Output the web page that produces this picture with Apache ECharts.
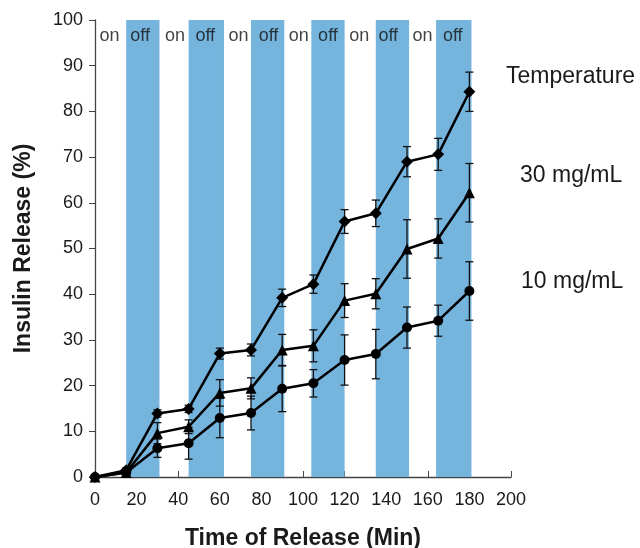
<!DOCTYPE html>
<html>
<head>
<meta charset="utf-8">
<script src="https://cdn.jsdelivr.net/npm/echarts@6/dist/echarts.min.js"></script>
<style>
  html, body { margin: 0; padding: 0; background: #fff; }
  #chart { width: 640px; height: 548px; }
</style>
</head>
<body>
<div id="chart"></div>
<script>
  // time points (min)
  var times = [0, 15, 30, 45, 60, 75, 90, 105, 120, 135, 150, 165, 180]
  // top curve (diamonds)
  var topVals = [0, 1.5, 13.9, 14.9, 27, 27.8, 39.2, 42.2, 55.9, 57.7, 69, 70.6, 84.3]
  var topErr = [0, 0.5, 0.8, 0.8, 1.2, 1.3, 1.9, 2, 2.6, 2.9, 3.3, 3.5, 4.3]
  // middle curve (triangles)
  var midVals = [0, 1, 9.6, 11, 18.4, 19.4, 27.8, 28.7, 38.6, 40.1, 49.9, 52.2, 62.2]
  var midErr = [0, 0.4, 2.3, 1.5, 2.9, 2.3, 3.4, 3.5, 3.7, 3.3, 6.4, 4.3, 6.4]
  // bottom curve (circles)
  var lowVals = [0, 1, 6.3, 7.4, 12.9, 14, 19.3, 20.5, 25.6, 26.9, 32.7, 34.2, 40.7]
  var lowErr = [0, 0.4, 2, 3.5, 4.3, 3.7, 5, 3, 5.5, 5.4, 4.5, 3.4, 6.4]
  // "off" periods
  var offStart = [15, 45, 75, 104, 135, 164]
  var offEnd = [31, 62, 91, 120, 151, 181]
  var onLabelX = [7, 38.5, 69, 98, 127, 157.5]
  var offLabelX = [21.7, 53, 83.4, 112, 141, 172]

  var font = 'Liberation Sans, Arial, sans-serif'
  var chart = echarts.init(document.getElementById('chart'))

  function pairs(vals) {
    return times.map(function (t, i) { return [t, vals[i]] })
  }
  function errData(vals, errs) {
    return times.map(function (t, i) { return [t, vals[i] - errs[i], vals[i] + errs[i]] })
  }
  function errSeries(vals, errs) {
    return {
      type: 'custom',
      z: 3,
      silent: true,
      data: errData(vals, errs),
      renderItem: function (params, api) {
        var lo = api.coord([api.value(0), api.value(1)])
        var hi = api.coord([api.value(0), api.value(2)])
        var w = 4
        var st = { stroke: '#111', lineWidth: 1.3 }
        return {
          type: 'group',
          children: [
            { type: 'line', shape: { x1: lo[0], y1: lo[1], x2: hi[0], y2: hi[1] }, style: st },
            { type: 'line', shape: { x1: lo[0] - w, y1: lo[1], x2: lo[0] + w, y2: lo[1] }, style: st },
            { type: 'line', shape: { x1: hi[0] - w, y1: hi[1], x2: hi[0] + w, y2: hi[1] }, style: st }
          ]
        }
      }
    }
  }
  function lineSeries(vals, sym, size) {
    return {
      type: 'line',
      z: 4,
      data: pairs(vals),
      symbol: sym,
      symbolSize: size,
      showAllSymbol: true,
      lineStyle: { color: '#000', width: 2.5 },
      itemStyle: { color: '#000' }
    }
  }

  var bands = offStart.map(function (s, i) {
    return [{ xAxis: s, yAxis: 0 }, { xAxis: offEnd[i], yAxis: 100 }]
  })

  var labelData = onLabelX.map(function (x) { return { value: [x, 96.5], label: { formatter: 'on' } } })
    .concat(offLabelX.map(function (x) { return { value: [x, 96.5], label: { formatter: 'off' } } }))

  chart.setOption({
    animation: false,
    grid: { left: 95, right: 129, top: 20, bottom: 71, containLabel: false, outerBoundsMode: 'none' },
    xAxis: {
      type: 'value',
      min: 0, max: 200, interval: 20,
      name: 'Time of Release (Min)',
      nameLocation: 'middle',
      nameGap: 50,
      nameTextStyle: { fontFamily: font, fontSize: 23, fontWeight: 'bold', color: '#1a1a1a' },
      axisLine: { lineStyle: { color: '#444', width: 1.3 } },
      axisTick: { inside: true, length: 6, lineStyle: { color: '#444' } },
      axisLabel: { fontFamily: font, fontSize: 18, color: '#1a1a1a', margin: 14 },
      splitLine: { show: false }
    },
    yAxis: {
      type: 'value',
      min: 0, max: 100, interval: 10,
      name: 'Insulin Release (%)',
      nameLocation: 'middle',
      nameGap: 60,
      nameTextStyle: { fontFamily: font, fontSize: 23, fontWeight: 'bold', color: '#1a1a1a' },
      axisLine: { show: true, lineStyle: { color: '#444', width: 1.3 } },
      axisTick: { show: true, length: 6, lineStyle: { color: '#444' } },
      axisLabel: { fontFamily: font, fontSize: 18, color: '#1a1a1a', margin: 12 },
      splitLine: { show: false }
    },
    series: [
      {
        type: 'line',
        data: [],
        z: 1,
        markArea: {
          silent: true,
          itemStyle: { color: '#75b4dc' },
          data: bands
        }
      },
      {
        type: 'scatter',
        z: 5,
        silent: true,
        symbolSize: 0,
        data: labelData,
        label: {
          show: true,
          position: 'inside',
          fontFamily: font,
          fontSize: 18,
          color: '#111'
        }
      },
      errSeries(topVals, topErr),
      errSeries(midVals, midErr),
      errSeries(lowVals, lowErr),
      lineSeries(topVals, 'diamond', 12),
      lineSeries(midVals, 'triangle', 11),
      lineSeries(lowVals, 'circle', 10)
    ],
    graphic: [
      { type: 'text', left: 506, top: 65, style: { text: 'Temperature', font: '23px ' + font, fill: '#1a1a1a' } },
      { type: 'text', left: 520, top: 164, style: { text: '30 mg/mL', font: '23px ' + font, fill: '#1a1a1a' } },
      { type: 'text', left: 521, top: 270, style: { text: '10 mg/mL', font: '23px ' + font, fill: '#1a1a1a' } }
    ]
  })
</script>
</body>
</html>
